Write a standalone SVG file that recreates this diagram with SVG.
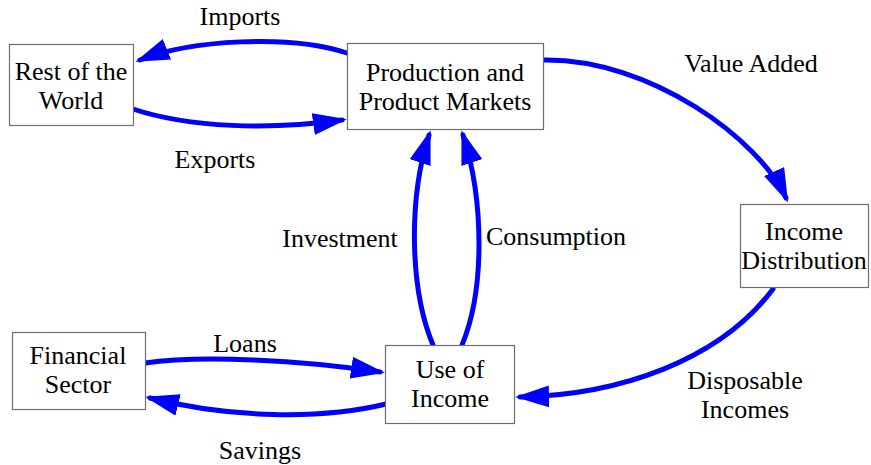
<svg xmlns="http://www.w3.org/2000/svg" width="871" height="465" viewBox="0 0 871 465">
<defs>
<marker id="ah" markerUnits="userSpaceOnUse" viewBox="0 0 34 22" markerWidth="34" markerHeight="22" refX="29" refY="11" orient="auto">
<path d="M0,0 L34,11 L0,22 z" fill="#0000ff"/>
</marker>
</defs>
<rect width="871" height="465" fill="#ffffff"/>
<g id="connectors" fill="none" stroke="#0000ff" stroke-width="5" stroke-linecap="round" marker-end="url(#ah)">
<path d="M347,53 C290,34 190,40 140,60"/>
<path d="M133,109 C190,128 270,130 342,120"/>
<path d="M543,60 C650,58 760,140 786,198"/>
<path d="M773,289 C720,360 620,395 520,397"/>
<path d="M433,345 C410,290 408,200 429,135"/>
<path d="M462,345 C485,290 484,200 463,135"/>
<path d="M145,363 C200,355 300,360 380,372"/>
<path d="M386,404 C320,420 230,418 150,398"/>
</g>
<g id="labels" font-family="Liberation Serif" font-size="26" text-anchor="middle" fill="#000000">
<text x="240" y="25" style="font-family:'Liberation Serif',serif">Imports</text>
<text x="215" y="168" style="font-family:'Liberation Serif',serif">Exports</text>
<text x="751" y="72" style="font-family:'Liberation Serif',serif">Value Added</text>
<text x="340" y="247" style="font-family:'Liberation Serif',serif">Investment</text>
<text x="556" y="245" style="font-family:'Liberation Serif',serif">Consumption</text>
<text x="245" y="352" style="font-family:'Liberation Serif',serif">Loans</text>
<text x="260" y="459" style="font-family:'Liberation Serif',serif">Savings</text>
<text x="745" y="389" style="font-family:'Liberation Serif',serif">Disposable</text>
<text x="745" y="418" style="font-family:'Liberation Serif',serif">Incomes</text>
</g>
<g id="rest-of-world" font-family="Liberation Serif" font-size="26" text-anchor="middle">
<rect x="9.5" y="44.5" width="124" height="81" fill="#ffffff" stroke="#6e6e6e" stroke-width="1.2"/>
<text x="71" y="80" style="font-family:'Liberation Serif',serif">Rest of the</text>
<text x="71" y="109" style="font-family:'Liberation Serif',serif">World</text>
</g>
<g id="production" font-family="Liberation Serif" font-size="26" text-anchor="middle">
<rect x="347.5" y="43.5" width="196" height="86" fill="#ffffff" stroke="#6e6e6e" stroke-width="1.2"/>
<text x="445" y="81" style="font-family:'Liberation Serif',serif">Production and</text>
<text x="445" y="110" style="font-family:'Liberation Serif',serif">Product Markets</text>
</g>
<g id="income-distribution" font-family="Liberation Serif" font-size="26" text-anchor="middle">
<rect x="740.5" y="204.5" width="128" height="83" fill="#ffffff" stroke="#6e6e6e" stroke-width="1.2"/>
<text x="804" y="240" style="font-family:'Liberation Serif',serif">Income</text>
<text x="804" y="269" style="font-family:'Liberation Serif',serif">Distribution</text>
</g>
<g id="financial-sector" font-family="Liberation Serif" font-size="26" text-anchor="middle">
<rect x="12.5" y="332.5" width="133" height="77" fill="#ffffff" stroke="#6e6e6e" stroke-width="1.2"/>
<text x="78" y="364" style="font-family:'Liberation Serif',serif">Financial</text>
<text x="78" y="393" style="font-family:'Liberation Serif',serif">Sector</text>
</g>
<g id="use-of-income" font-family="Liberation Serif" font-size="26" text-anchor="middle">
<rect x="385.5" y="345.5" width="129" height="78" fill="#ffffff" stroke="#6e6e6e" stroke-width="1.2"/>
<text x="450" y="378" style="font-family:'Liberation Serif',serif">Use of</text>
<text x="450" y="407" style="font-family:'Liberation Serif',serif">Income</text>
</g>
</svg>
